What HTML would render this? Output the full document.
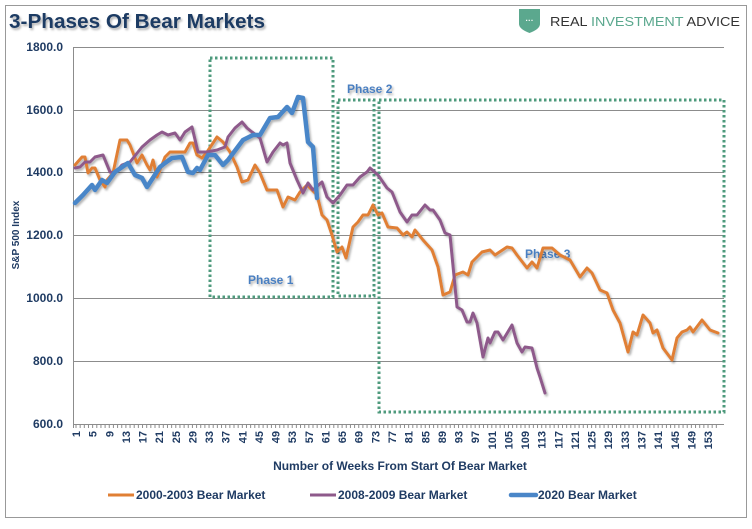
<!DOCTYPE html>
<html><head><meta charset="utf-8"><style>
body{margin:0;background:#fff;}
svg text{font-family:"Liberation Sans",sans-serif;}
</style></head><body>
<svg width="752" height="524" viewBox="0 0 752 524" xmlns="http://www.w3.org/2000/svg">
<defs><filter id="sh" x="-5%" y="-5%" width="110%" height="110%"><feDropShadow dx="1.5" dy="2" stdDeviation="1" flood-color="#000" flood-opacity="0.3"/></filter></defs>
<rect x="5.5" y="5.5" width="741" height="512" fill="#fff" stroke="#999" stroke-width="1"/>
<text x="9" y="28" font-size="20" font-weight="bold" fill="#1f3b63" filter="url(#sh)" textLength="256" lengthAdjust="spacingAndGlyphs">3-Phases Of Bear Markets</text>
<path d="M519 9 L540 9 L540 24 Q540 29 529.5 33 Q519 29 519 24 Z" fill="#5ba88e"/>
<text x="529.5" y="23" font-size="8" fill="#fff" text-anchor="middle" font-weight="bold">···</text>
<text x="550" y="26" font-size="13" fill="#333" textLength="190" lengthAdjust="spacingAndGlyphs">REAL <tspan fill="#5ba88e">INVESTMENT</tspan> ADVICE</text>
<g stroke="#8c8c8c" stroke-width="1">
<line x1="73" y1="47.5" x2="724" y2="47.5"/><line x1="73" y1="110.5" x2="724" y2="110.5"/><line x1="73" y1="172.5" x2="724" y2="172.5"/><line x1="73" y1="235.5" x2="724" y2="235.5"/><line x1="73" y1="298.5" x2="724" y2="298.5"/><line x1="73" y1="361.5" x2="724" y2="361.5"/><line x1="73" y1="424.5" x2="724" y2="424.5"/>
<line x1="73.5" y1="47" x2="73.5" y2="428"/>
</g>
<g font-size="12" font-weight="bold" fill="#1f3b63" text-anchor="end">
<text x="63" y="51">1800.0</text><text x="63" y="114">1600.0</text><text x="63" y="176">1400.0</text><text x="63" y="239">1200.0</text><text x="63" y="302">1000.0</text><text x="63" y="365">800.0</text><text x="63" y="428">600.0</text>
</g>
<text transform="translate(19,235) rotate(-90)" font-size="10" font-weight="bold" fill="#1f3b63" text-anchor="middle">S&amp;P 500 Index</text>
<g id="ticks" stroke="#8c8c8c" stroke-width="1"></g>
<g id="xl" font-size="11" font-weight="bold" fill="#1f3b63"></g>
<text x="400" y="470" font-size="12" font-weight="bold" fill="#1f3b63" text-anchor="middle">Number of Weeks From Start Of Bear Market</text>
<g fill="none" stroke="#4e9a7c" stroke-width="3" stroke-dasharray="2.5 2.5">
<rect x="210" y="58" width="123" height="239"/>
<rect x="338" y="100" width="36" height="196"/>
<rect x="379" y="100" width="345" height="312"/>
</g>
<g font-size="12" font-weight="bold" fill="#4a7fc1" filter="url(#sh)">
<text x="248" y="284">Phase 1</text><text x="347" y="93">Phase 2</text><text x="525" y="258">Phase 3</text>
</g>
<g fill="none" stroke-linejoin="round" stroke-linecap="round" filter="url(#sh)">
<polyline stroke="#e07f34" stroke-width="3" points="75,165 82,157 85,157 88,173 92,168 95,168 100,180 105,187 107,180 113,173 120,140 127,140 130,145 137,163 142,155 147,165 150,170 153,160 157,177 160,170 165,157 170,152 177,152 185,152 190,143 193,143 197,155 202,158 207,152 217,137 223,142 230,152 237,167 242,182 248,180 255,165 260,173 267,190 273,190 277,190 283,207 288,197 295,200 300,192 307,185 317,195 322,215 327,220 332,235 337,252 342,247 346,258 353,227 358,222 363,215 368,215 373,205 378,215 382,213 388,227 397,228 403,235 407,232 412,237 415,230 423,240 432,250 438,267 443,295 450,292 455,275 463,272 468,275 472,262 482,252 490,250 495,255 507,247 512,248 517,255 527,268 532,262 537,268 543,248 552,248 560,255 570,260 580,277 587,268 592,273 600,290 607,293 613,310 620,323 628,352 633,332 637,335 643,315 650,323 653,333 657,330 663,348 672,360 677,338 682,332 687,330 690,327 693,332 702,320 710,330 718,333"/>
<polyline stroke="#8e5a8b" stroke-width="3" points="75,168 80,167 85,162 90,162 95,157 103,155 110,172 115,173 122,165 130,162 142,147 150,140 157,135 162,132 168,135 175,133 180,140 185,132 192,127 198,152 207,152 217,150 225,147 228,137 235,128 242,122 247,128 252,132 260,138 267,162 273,152 280,143 283,145 287,143 290,163 297,180 303,193 308,183 313,190 322,182 327,197 333,203 340,195 347,185 353,185 360,177 367,172 370,168 378,175 387,188 392,192 400,212 407,222 412,215 417,215 425,205 430,210 433,210 440,220 445,233 450,235 457,307 462,310 467,322 470,322 473,313 477,323 483,357 488,338 490,343 495,332 498,332 503,340 512,325 517,343 522,352 525,347 532,348 537,368 540,377 545,393"/>
<polyline stroke="#4a86c8" stroke-width="4.5" points="75,203 83,195 92,185 95,190 102,180 107,183 115,172 128,163 135,175 142,178 147,187 160,167 165,163 172,158 182,157 188,172 193,173 197,168 200,170 208,155 215,155 223,165 228,160 243,140 253,135 260,135 270,118 278,117 287,107 292,113 298,97 303,98 308,142 313,147 317,198"/>
</g>
<g font-size="12" fill="#1f3b63" font-weight="bold">
<line x1="108" y1="495" x2="134" y2="495" stroke="#e07f34" stroke-width="3"/><text x="136" y="499">2000-2003 Bear Market</text>
<line x1="310" y1="495" x2="336" y2="495" stroke="#8e5a8b" stroke-width="3"/><text x="338" y="499">2008-2009 Bear Market</text>
<line x1="511" y1="495" x2="536" y2="495" stroke="#4a86c8" stroke-width="4.5" stroke-linecap="round"/><text x="538" y="499">2020 Bear Market</text>
</g>
<script>
var t=document.getElementById('ticks'),l=document.getElementById('xl'),ns='http://www.w3.org/2000/svg';
for(var w=1;w<=155;w++){var x=76+(w-1)*4.158;var ln=document.createElementNS(ns,'line');ln.setAttribute('x1',x);ln.setAttribute('x2',x);ln.setAttribute('y1',424);ln.setAttribute('y2',428);t.appendChild(ln);
if((w-1)%4==0&&w<=153){var tx=document.createElementNS(ns,'text');tx.setAttribute('transform','translate('+(x+4)+',431) rotate(-90)');tx.setAttribute('text-anchor','end');tx.textContent=w;l.appendChild(tx);}}
</script>
</svg>
</body></html>
